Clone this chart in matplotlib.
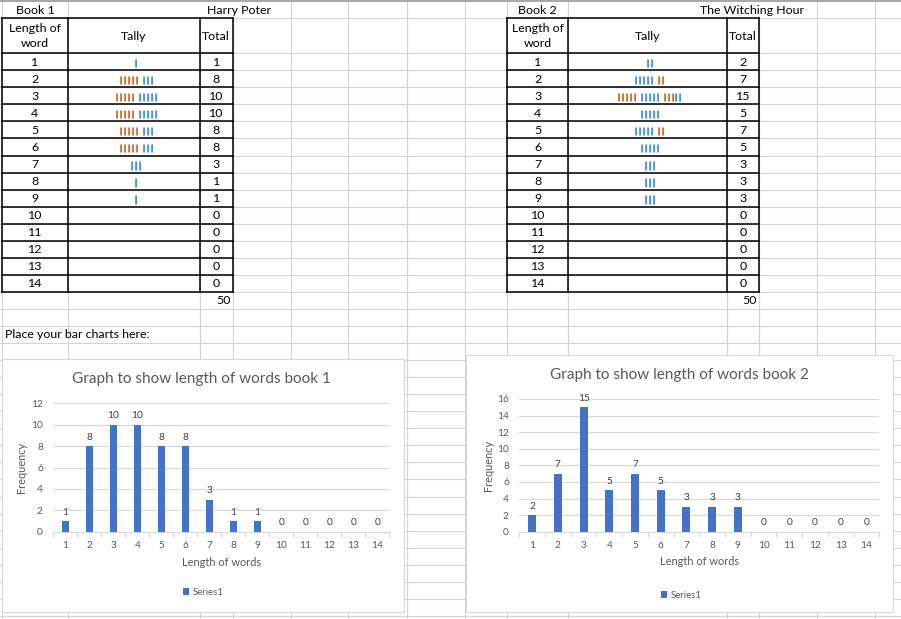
import matplotlib
matplotlib.use("Agg")
import matplotlib.pyplot as plt
from matplotlib.patches import Rectangle
import numpy as np

plt.rcParams['font.family'] = ['Lato', 'DejaVu Sans']

# ---------------- data ----------------
word_lengths = list(range(1, 15))
book1_title = "Harry Poter"
book2_title = "The Witching Hour"
book1_totals = [1, 8, 10, 10, 8, 8, 3, 1, 1, 0, 0, 0, 0, 0]
book2_totals = [2, 7, 15, 5, 7, 5, 3, 3, 3, 0, 0, 0, 0, 0]
chart1_title = "Graph to show length of words book 1"
chart2_title = "Graph to show length of words book 2"
series_name = "Series1"

W, H = 901, 619
fig = plt.figure(figsize=(W / 100, H / 100), dpi=100)
bg = fig.add_axes([0, 0, 1, 1], zorder=0)
bg.set_xlim(0, W)
bg.set_ylim(H, 0)
bg.axis('off')

GRID = '#d4d4d4'
# sheet grid
row_lines = [18.3] + [53.2 + 17.05 * k for k in range(0, 34)]
col_lines = [1.5, 68.3, 199.5, 232.7, 290.7, 348.3, 406.7, 464.7, 507.3,
             568.3, 726.7, 759.3, 817.3, 875.3]
hidden_row0 = {199.5, 232.7, 726.7, 759.3}
for y in row_lines:
    bg.plot([0, W], [y, y], color=GRID, lw=0.8, zorder=1)
for x in col_lines:
    y0 = 18.3 if x in hidden_row0 else 0
    bg.plot([x, x], [y0, H], color=GRID, lw=0.8, zorder=1)
bg.plot([0, W], [1.2, 1.2], color='#a6a6a6', lw=1.4, zorder=1)

CELL_FS = 8.9


def draw_table(x_cols, totals, book_label, title, title_x):
    xa, xb, xc, xd = x_cols
    top, head_bot = 18.3, 53.2
    rows = [head_bot + 17.05 * k for k in range(len(totals) + 1)]
    bottom = rows[-1]
    for y in [top] + rows:
        bg.plot([xa, xd], [y, y], color='black', lw=1.1, zorder=3)
    for x in (xa, xb, xc, xd):
        bg.plot([x, x], [top, bottom], color='black', lw=1.1, zorder=3)
    bg.text((xa + xb) / 2, 10.5, book_label, ha='center', va='center', fontsize=CELL_FS, zorder=4)
    bg.text(title_x, 10, title, ha='left', va='center', fontsize=CELL_FS, zorder=4)
    bg.text((xa + xb) / 2, 36, "Length of\nword", ha='center', va='center',
            fontsize=CELL_FS, linespacing=1.45, zorder=4)
    bg.text((xb + xc) / 2, 37, "Tally", ha='center', va='center', fontsize=CELL_FS, zorder=4)
    bg.text((xc + xd) / 2, 37, "Total", ha='center', va='center', fontsize=CELL_FS, zorder=4)
    for i, (n, tot) in enumerate(zip(word_lengths, totals)):
        yc = (rows[i] + rows[i + 1]) / 2
        bg.text((xa + xb) / 2, yc + 0.5, str(n), ha='center', va='center', fontsize=CELL_FS, zorder=4)
        bg.text((xc + xd) / 2, yc + 0.5, str(tot), ha='center', va='center', fontsize=CELL_FS, zorder=4)
        # tally strokes
        if tot > 0:
            groups = (tot - 1) // 5
            width = (tot - 1) * 3.9 + groups * 3.4
            x0 = round((xb + xc) / 2 - width / 2)
            for s in range(tot):
                p = round(x0 + s * 3.9 + (s // 5) * 3.4)
                bg.plot([p + 0.5, p + 0.5], [yc - 3, yc + 5.5], color='#e08a3c', lw=0.85,
                        solid_capstyle='butt', zorder=4)
                bg.plot([p + 1.5, p + 1.5], [yc - 3, yc + 5.5], color='#4a96d8', lw=0.85,
                        solid_capstyle='butt', zorder=4)
    bg.text(xd - 2.5, rows[-1] + 17.05 / 2 + 0.5, str(sum(totals)),
            ha='right', va='center', fontsize=CELL_FS, zorder=4)


draw_table((1.5, 68.3, 199.5, 232.7), book1_totals, "Book 1", book1_title, 207)
draw_table((507.3, 568.3, 726.7, 759.3), book2_totals, "Book 2", book2_title, 700)

bg.text(4.7, 334.5, "Place your bar charts here:", ha='left', va='center', fontsize=CELL_FS, zorder=4)

# ---------------- charts ----------------
BAR = '#4472c4'
TXT = '#595959'
GL = '#d9d9d9'
SMALL = 7.3


def chart(box, plot_px, ymax, ystep, values, title, title_xy, ylab_xy, xlab_xy, leg_xy):
    bx0, by0, bx1, by1 = box
    bg.add_patch(Rectangle((bx0, by0), bx1 - bx0, by1 - by0, facecolor='white',
                           edgecolor=GL, lw=0.8, zorder=5))
    px0, py_top, px1, py_bot = plot_px
    ax = fig.add_axes([px0 / W, 1 - py_bot / H, (px1 - px0) / W, (py_bot - py_top) / H], zorder=2)
    ax.set_facecolor('none')
    bars = ax.bar(word_lengths, values, width=0.313, color=BAR, zorder=3)
    ax.bar_label(bars, padding=3.2, fontsize=SMALL, color='#404040')
    ax.set_xlim(0.5, 14.5)
    ax.set_ylim(0, ymax)
    ax.set_yticks(np.arange(0, ymax + 0.1, ystep))
    ax.yaxis.grid(True, color=GL, lw=0.8, zorder=0)
    ax.set_axisbelow(True)
    for s in ('top', 'right', 'left'):
        ax.spines[s].set_visible(False)
    ax.spines['bottom'].set_color(GL)
    ax.spines['bottom'].set_linewidth(0.8)
    ax.set_xticks(np.arange(0.5, 15, 1))
    ax.set_xticklabels([])
    ax.tick_params(axis='x', which='major', length=3.5, color=GL, width=0.8, direction='out')
    ax.set_xticks(word_lengths, minor=True)
    ax.set_xticklabels([str(v) for v in word_lengths], minor=True)
    ax.tick_params(axis='x', which='minor', length=0, pad=6.5, labelsize=SMALL, labelcolor=TXT)
    ax.tick_params(axis='y', length=0, pad=7.5, labelsize=SMALL, labelcolor=TXT)
    bg.text(title_xy[0], title_xy[1], title, ha='center', va='center', fontsize=11.0,
            color=TXT, zorder=6)
    bg.text(ylab_xy[0], ylab_xy[1], "Frequency", ha='center', va='center', rotation=90,
            fontsize=7.9, color=TXT, zorder=6)
    bg.text(xlab_xy[0], xlab_xy[1], "Length of words", ha='center', va='center',
            fontsize=7.9, color=TXT, zorder=6)
    ax.legend([bars], [series_name], loc='center', bbox_to_anchor=leg_xy,
              bbox_transform=bg.transData, frameon=False, fontsize=6.9,
              handlelength=0.7, handleheight=0.7, handletextpad=0.35,
              labelcolor=TXT)
    return ax


chart((1.5, 359, 404, 612), (53.3, 403.3, 389.3, 531.7), 12, 2, book1_totals,
      chart1_title, (201, 379.3), (21.7, 467), (221.7, 562.3), (203, 592.5))
chart((466, 355, 893, 612), (519.3, 399, 879.3, 531.7), 16, 2, book2_totals,
      chart2_title, (679, 375), (488.3, 465), (699.3, 561.7), (681, 595))

fig.savefig('out.png', dpi=100)
